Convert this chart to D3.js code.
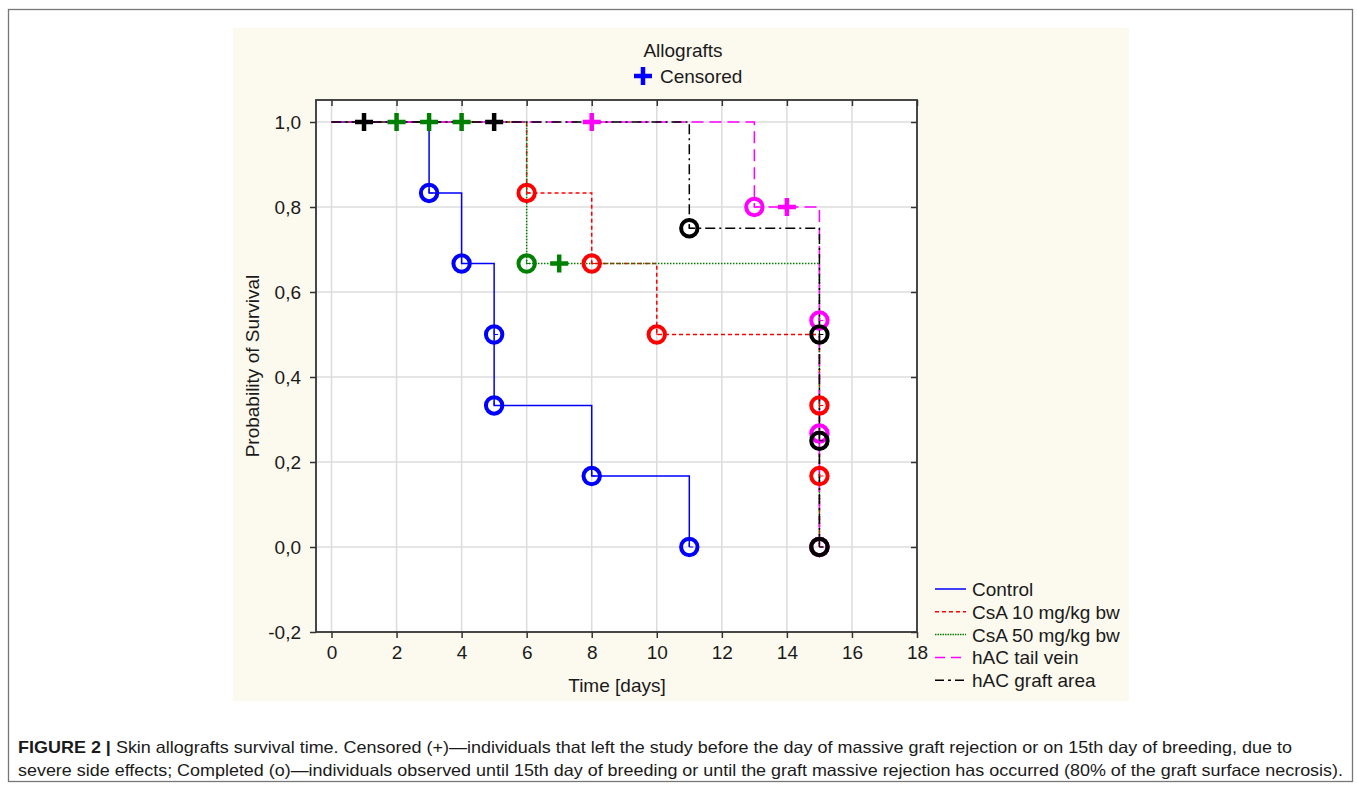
<!doctype html>
<html>
<head>
    <script src="https://cdnjs.cloudflare.com/ajax/libs/d3/7.8.5/d3.min.js"></script>
    <style>
        body { margin: 0; background: #fff; }
        text { font-family: "Liberation Sans", Arial, sans-serif; fill: #1a1a1a; }
    </style>
</head>
<body>
<svg id="chart" width="1357" height="787"></svg>
<script>
    // data
    series = ["Control", "CsA 10 mg/kg bw", "CsA 50 mg/kg bw", "hAC tail vein", "hAC graft area"];
    // step curve: times where the survival changes, and the survival after each change
    stepTimes = [[0, 3, 4, 5, 8, 11], [0, 6, 8, 10, 15], [0, 6, 15], [0, 13, 15], [0, 11, 15]];
    stepSurv = [[1, 0.833, 0.667, 0.333, 0.167, 0], [1, 0.833, 0.667, 0.5, 0], [1, 0.667, 0], [1, 0.8, 0], [1, 0.75, 0]];
    // completed (o)
    doneTimes = [[3, 4, 5, 5, 8, 11], [6, 8, 10, 15, 15, 15], [6, 15], [13, 15, 15, 15], [11, 15, 15, 15]];
    doneSurv = [[0.833, 0.667, 0.5, 0.333, 0.167, 0], [0.833, 0.667, 0.5, 0.333, 0.167, 0], [0.667, 0], [0.8, 0.533, 0.267, 0], [0.75, 0.5, 0.25, 0]];
    // censored (+)
    censTimes = [[], [], [2, 3, 4, 7], [8, 14], [1, 5]];
    censSurv = [[], [], [1, 1, 1, 0.667], [1, 0.8], [1, 1]];
    xTicks = [0, 2, 4, 6, 8, 10, 12, 14, 16, 18];
    yTicks = [-0.2, 0, 0.2, 0.4, 0.6, 0.8, 1.0];

    colors = ["#0000ff", "#ff0000", "#008000", "#ff00ff", "#000000"];
    dashes = [null, "4,3", "1.5,1.5", "12,6", "10,4,2,4"];
    legendDashes = [null, "4,3", "1.5,1", "10,6", "9,4,3,4"];
    fs = "19px";

    svg = d3.select("#chart");

    // outer figure box and plot panel
    svg.append("rect").attr("x", 8.5).attr("y", 9.5).attr("width", 1344).attr("height", 772)
        .style("fill", "none").style("stroke", "#777").style("stroke-width", 1.3);
    svg.append("rect").attr("x", 233).attr("y", 28).attr("width", 896).attr("height", 673)
        .style("fill", "#fcf9ee");

    L = 316, R = 917, T = 100, B = 632;
    x = d3.scaleLinear().domain([0, 18]).range([331.5, 917]);
    y = d3.scaleLinear().domain([-0.2, 1.0]).range([632, 122]);
    fmt = d => d3.format(".1f")(d).replace("−", "-").replace(".", ",");

    svg.append("rect").attr("x", L).attr("y", T).attr("width", R - L).attr("height", B - T)
        .style("fill", "#fff");

    // grid
    svg.append("g").selectAll("line.gx").data(xTicks.slice(0, -1)).enter().append("line")
        .attr("x1", d => x(d)).attr("x2", d => x(d)).attr("y1", T).attr("y2", B)
        .style("stroke", "#dcdcdc").style("stroke-width", 1.5);
    svg.append("g").selectAll("line.gy").data(yTicks.slice(1)).enter().append("line")
        .attr("x1", L).attr("x2", R).attr("y1", d => y(d)).attr("y2", d => y(d))
        .style("stroke", "#dcdcdc").style("stroke-width", 1.5);

    // axes
    gb = svg.append("g").attr("transform", "translate(0," + B + ")")
        .call(d3.axisBottom(x).tickValues(xTicks).tickSize(6).tickPadding(8).tickFormat(d3.format("d")));
    gl = svg.append("g").attr("transform", "translate(" + L + ",0)")
        .call(d3.axisLeft(y).tickValues(yTicks).tickSize(6).tickPadding(9).tickFormat(fmt));
    gt = svg.append("g").attr("transform", "translate(0," + T + ")")
        .call(d3.axisTop(x).tickValues(xTicks).tickSize(-6).tickFormat(""));
    gr = svg.append("g").attr("transform", "translate(" + R + ",0)")
        .call(d3.axisRight(y).tickValues(yTicks).tickSize(-6).tickFormat(""));
    [gb, gl, gt, gr].forEach(g => {
        g.select(".domain").remove();
        g.selectAll("line").style("stroke", "#333").style("stroke-width", 1.5);
        g.selectAll("text").style("font-size", fs).style("fill", "#1a1a1a")
            .style("font-family", "'Liberation Sans', Arial, sans-serif");
    });

    svg.append("rect").attr("x", L).attr("y", T).attr("width", R - L).attr("height", B - T)
        .style("fill", "none").style("stroke", "#333").style("stroke-width", 1.8);

    // survival curves
    line = d3.line().x(d => x(d[0])).y(d => y(d[1])).curve(d3.curveStepAfter);
    series.forEach((s, i) => {
        pts = stepTimes[i].map((t, j) => [t, stepSurv[i][j]]);
        svg.append("path").datum(pts).attr("d", line)
            .style("fill", "none").style("stroke", colors[i]).style("stroke-width", 1.5)
            .style("stroke-dasharray", dashes[i]);
    });

    // markers
    series.forEach((s, i) => {
        g = svg.append("g");
        doneTimes[i].forEach((t, j) => {
            cx = x(t), cy = y(doneSurv[i][j]);
            g.append("circle").attr("cx", cx).attr("cy", cy).attr("r", 8.2)
                .style("fill", "none").style("stroke", colors[i]).style("stroke-width", 4);
            g.append("path").attr("d", "M" + cx + "," + (cy - 4) + "V" + cy + "H" + (cx + 4))
                .style("fill", "none").style("stroke", colors[i]).style("stroke-width", 1);
        });
        censTimes[i].forEach((t, j) => {
            cx = x(t), cy = y(censSurv[i][j]);
            g.append("path").attr("d", "M" + (cx - 9) + "," + cy + "H" + (cx + 9) + "M" + cx + "," + (cy - 9) + "V" + (cy + 9))
                .style("stroke", colors[i]).style("stroke-width", 4.5);
        });
    });

    // title and censored key
    svg.append("text").attr("x", 683).attr("y", 57).attr("text-anchor", "middle")
        .style("font-size", fs).text("Allografts");
    svg.append("path").attr("d", "M634,76H652M643,67V85").style("stroke", "#0000ff").style("stroke-width", 4.5);
    svg.append("text").attr("x", 660).attr("y", 83).style("font-size", fs).text("Censored");

    // axis titles
    svg.append("text").attr("x", 617).attr("y", 692).attr("text-anchor", "middle")
        .style("font-size", fs).text("Time [days]");
    svg.append("text").attr("transform", "translate(259,366) rotate(-90)").attr("text-anchor", "middle")
        .style("font-size", fs).text("Probability of Survival");

    // legend
    lg = svg.append("g").selectAll("g").data(series).enter().append("g")
        .attr("transform", (d, i) => "translate(935," + (589 + i * 22.8) + ")");
    lg.append("line").attr("x1", 0).attr("x2", 31).attr("y1", 0).attr("y2", 0)
        .style("stroke", (d, i) => colors[i]).style("stroke-width", 1.5)
        .style("stroke-dasharray", (d, i) => legendDashes[i]);
    lg.append("text").attr("x", 37).attr("y", 7).style("font-size", fs).text(d => d);

    // caption
    c1 = svg.append("text").attr("x", 18).attr("y", 753).style("font-size", "16.5px")
        .attr("textLength", 1274).attr("lengthAdjust", "spacingAndGlyphs");
    c1.append("tspan").style("font-weight", "bold").text("FIGURE 2 | ");
    c1.append("tspan").text("Skin allografts survival time. Censored (+)—individuals that left the study before the day of massive graft rejection or on 15th day of breeding, due to");
    svg.append("text").attr("x", 18).attr("y", 776).style("font-size", "16.5px")
        .attr("textLength", 1325).attr("lengthAdjust", "spacingAndGlyphs")
        .text("severe side effects; Completed (o)—individuals observed until 15th day of breeding or until the graft massive rejection has occurred (80% of the graft surface necrosis).");
</script>
</body>
</html>
